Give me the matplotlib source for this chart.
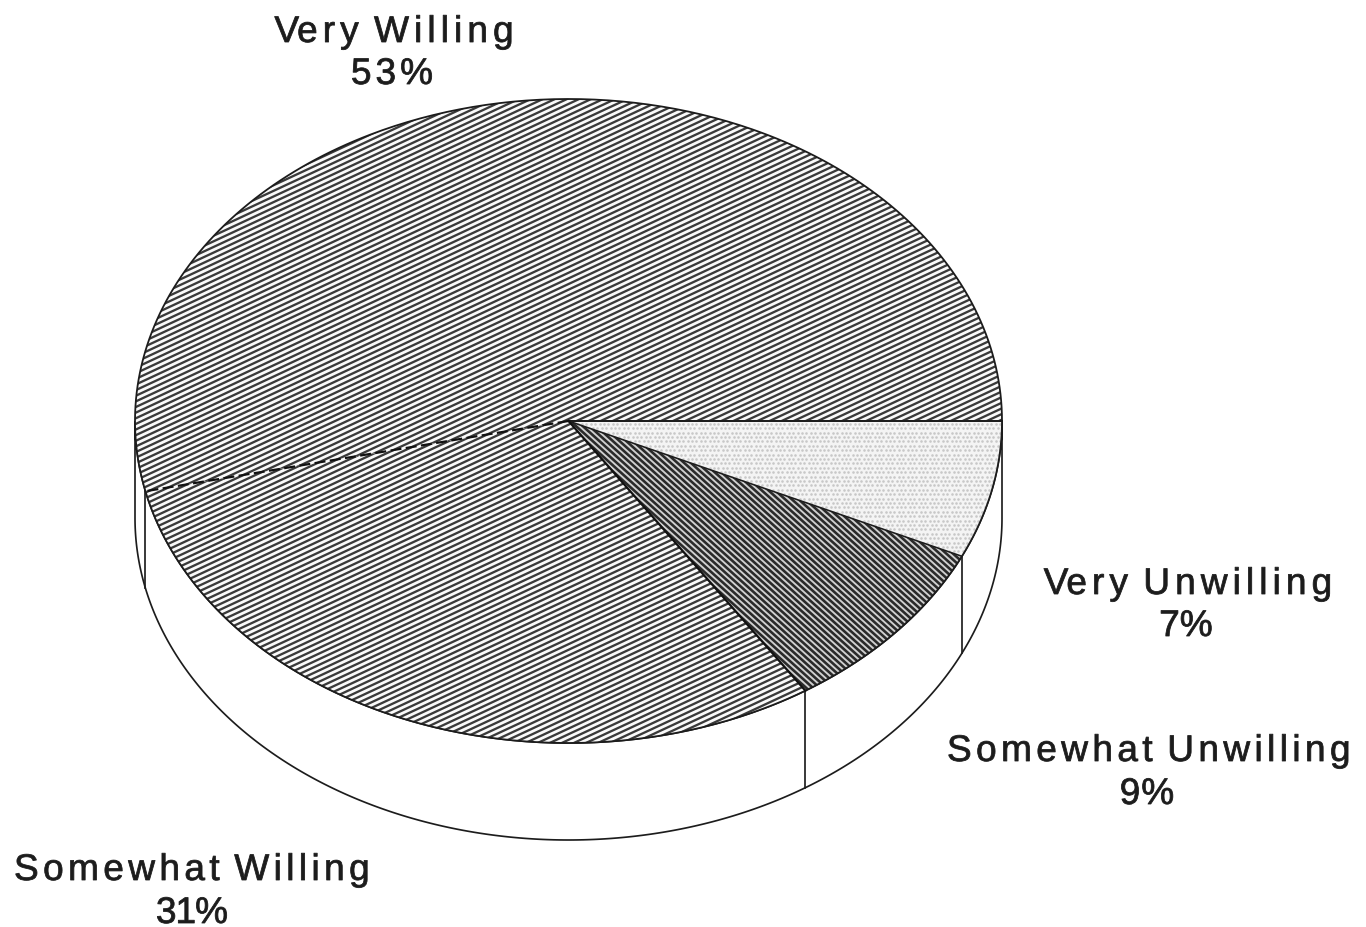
import numpy as np
import matplotlib
matplotlib.use("Agg")
import matplotlib.pyplot as plt
from matplotlib.collections import LineCollection
from matplotlib.patches import Polygon
from matplotlib.path import Path
from matplotlib.patheffects import AbstractPathEffect

# ---- data ----
categories = ["Very Unwilling", "Somewhat Unwilling", "Somewhat Willing", "Very Willing"]
percent_labels = ["7%", "9%", "31%", "53%"]
shares = [6.9, 8.9, 30.7, 53.5]

# ---- layout (pixels) ----
W, H = 1366, 927
CX, CY, RX, RY, DEPTH = 568.5, 421, 433.5, 322, 97
# name x, name baseline, pct x, pct baseline, name tracking, pct tracking
LABEL_POS = {
    "Very Unwilling": (1188, 594, 1186, 636, 5.1, 0.0),
    "Somewhat Unwilling": (1149, 761, 1147, 804, 4.4, 1.0),
    "Somewhat Willing": (192, 880, 192, 923, 4.4, -1.0),
    "Very Willing": (394, 42, 392, 84, 5.1, 4.0),
}
INK = "#1c1c1c"
DPI = 100
PX = 72 / DPI


class LetterSpacing(AbstractPathEffect):
    """Draw a text path with extra space between glyphs (pixels) and a slight embolden."""

    def __init__(self, spacing, weight=0.8):
        super().__init__()
        self.spacing = spacing
        self.weight = weight

    def draw_path(self, renderer, gc, tpath, affine, rgbFace=None):
        verts = np.array(tpath.vertices, float)
        codes = np.array(tpath.codes)
        starts = list(np.flatnonzero(codes == Path.MOVETO)) + [len(codes)]
        unit = self.spacing / abs(affine.get_matrix()[0, 0])
        glyph, glyph_end, index = -1, -np.inf, []
        for s, e in zip(starts[:-1], starts[1:]):
            real = codes[s:e] != Path.CLOSEPOLY
            xmin, xmax = verts[s:e][real, 0].min(), verts[s:e][real, 0].max()
            if xmin >= glyph_end - 1e-6:
                glyph += 1
                glyph_end = xmax
            else:
                glyph_end = max(glyph_end, xmax)
            index.append((s, e, glyph))
        for s, e, g in index:
            verts[s:e, 0] += unit * (g - glyph / 2)
        gc.set_linewidth(self.weight * PX)
        gc.set_foreground(INK)
        renderer.draw_path(gc, Path(verts, codes), affine, rgbFace)


def ell(t, dy=0.0):
    return CX + RX * np.cos(t), CY + dy - RY * np.sin(t)


fig = plt.figure(figsize=(W / DPI, H / DPI), dpi=DPI, facecolor="white")
ax = fig.add_axes([0, 0, 1, 1])
ax.set_xlim(0, W)
ax.set_ylim(H, 0)
ax.axis("off")

# slice angles, clockwise from the east
edges = -np.deg2rad(np.cumsum([0] + shares) * 3.6)

# ---- rim ----
t = np.linspace(np.pi, 2 * np.pi, 400)
xs, ys = ell(t, DEPTH)
xt, yt = ell(t)
rim = np.vstack([np.column_stack([xs, ys]), np.column_stack([xt, yt])[::-1]])
ax.add_patch(Polygon(rim, closed=True, fc="white", ec=INK, lw=1.7 * PX, zorder=1))
for e in edges[1:4]:
    px, py = ell(e)
    if np.sin(e) < 0:
        ax.plot([px, px], [py, py + DEPTH], color=INK, lw=1.7 * PX, zorder=1.5)


def wedge_xy(a, b):
    tt = np.linspace(a, b, 300)
    x, y = ell(tt)
    return np.vstack([[CX, CY], np.column_stack([x, y])])


def hatch(xy, angle_deg, pitch, lw, color, back, z):
    """Texture lines clipped to a slice. angle is measured on screen, up-right positive."""
    clip = Polygon(xy, closed=True, fc=back, ec="none", zorder=z)
    ax.add_patch(clip)
    a = np.deg2rad(angle_deg)
    vert = pitch / np.cos(a)
    segs = []
    for c in np.arange(-2000, 3000, vert):
        segs.append([(0, c), (W, c - W * np.tan(a))])
    lc = LineCollection(segs, colors=color, linewidths=lw * PX, zorder=z + 0.1)
    ax.add_collection(lc)
    lc.set_clip_path(clip)


HATCH = {
    "Very Willing": dict(angle_deg=25, pitch=5.1, lw=2.3, color="#3a3a3a", back="#fafafa"),
    "Somewhat Willing": dict(angle_deg=25, pitch=5.1, lw=2.3, color="#3a3a3a", back="#fafafa"),
    "Somewhat Unwilling": dict(angle_deg=-42, pitch=4.5, lw=2.6, color="#2a2a2a", back="#d0d0d0"),
}

for i, name in enumerate(categories):
    xy = wedge_xy(edges[i], edges[i + 1])
    z = 2 + i * 0.3
    if name in HATCH:
        hatch(xy, z=z, **HATCH[name])
    else:
        clip = Polygon(xy, closed=True, fc="#f4f4f4", ec="none", zorder=z)
        ax.add_patch(clip)
        gx, gy = np.meshgrid(np.arange(560, 1010, 4.4), np.arange(415, 570, 4.4))
        gx = gx.copy()
        gx[1::2] += 2.2
        sc = ax.scatter(gx.ravel(), gy.ravel(), s=3.5, c="#c8c8c8", linewidths=0, zorder=z + 0.1)
        sc.set_clip_path(clip)

# ---- outlines ----
tt = np.linspace(0, 2 * np.pi, 600)
ox, oy = ell(tt)
ax.plot(ox, oy, color=INK, lw=1.8 * PX, zorder=4)
px, py = ell(edges[0])
ax.plot([CX, px], [CY, py], color=INK, lw=2.0 * PX, zorder=4)
px, py = ell(edges[1])
ax.plot([CX, px], [CY, py], color=INK, lw=1.6 * PX, zorder=4)
px, py = ell(edges[2])
ax.plot([CX, px], [CY, py], color="#111111", lw=2.2 * PX, zorder=4)
px, py = ell(edges[3])
ax.plot([CX, px], [CY, py], color="#111111", lw=2.2 * PX, ls=(0, (5, 2)), zorder=4)

# ---- labels ----
FS = 37 * PX
for name, pct in zip(categories, percent_labels):
    nx, ny, qx, qy, ns, qs = LABEL_POS[name]
    for s, x, y, sp in ((name, nx, ny, ns), (pct, qx, qy, qs)):
        ax.text(x, y, s, ha="center", va="baseline", fontsize=FS, color=INK,
                family="Liberation Sans", zorder=6,
                path_effects=[LetterSpacing(sp)])

fig.savefig("out.png", dpi=DPI, facecolor="white")
